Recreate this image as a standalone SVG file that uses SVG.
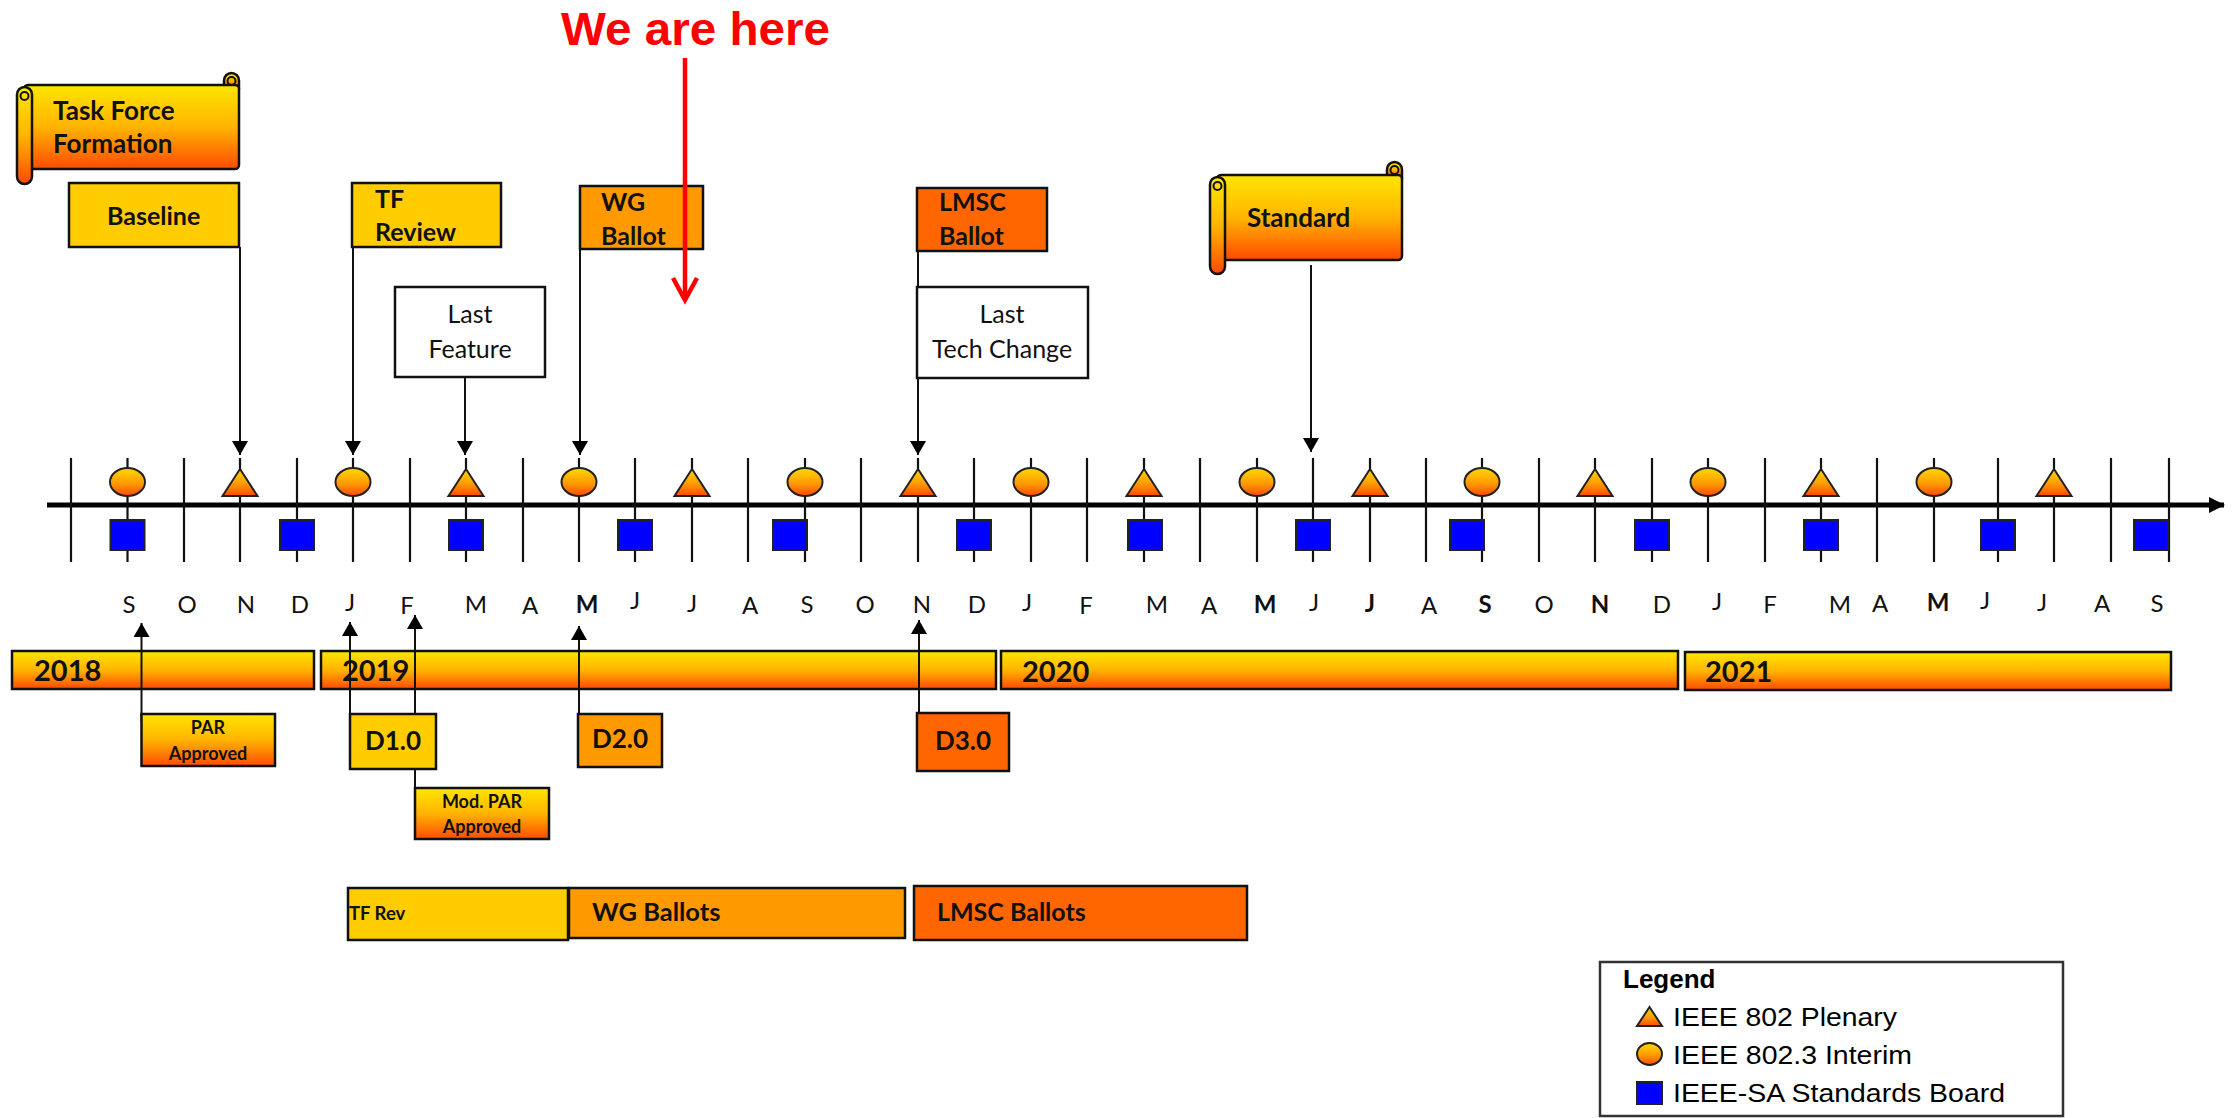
<svg xmlns="http://www.w3.org/2000/svg" width="2236" height="1118" viewBox="0 0 2236 1118">
<defs>
<linearGradient id="gy" x1="0" y1="0" x2="0" y2="1">
<stop offset="0" stop-color="#FFE600"/><stop offset="0.5" stop-color="#FFB400"/><stop offset="1" stop-color="#FF4A00"/>
</linearGradient>
<linearGradient id="gm" x1="0" y1="0" x2="0" y2="1">
<stop offset="0" stop-color="#FFD800"/><stop offset="0.55" stop-color="#FF9A00"/><stop offset="1" stop-color="#FF4A00"/>
</linearGradient>
<marker id="ah" viewBox="0 0 14 16" refX="14" refY="8" markerWidth="14" markerHeight="16" markerUnits="userSpaceOnUse" orient="auto">
<path d="M0,0 L14,8 L0,16 z" fill="#000"/>
</marker>
<marker id="axh" viewBox="0 0 16 16" refX="15" refY="8" markerWidth="16" markerHeight="16" markerUnits="userSpaceOnUse" orient="auto">
<path d="M0,0 L16,8 L0,16 z" fill="#000"/>
</marker>
</defs>
<style>
.bx{stroke:#111;stroke-width:2.5}
.y1{fill:#FFCC00}.y2{fill:#FF9900}.y3{fill:#FF6600}
.gr{fill:url(#gy)}
.t{font-family:Lato,"Open Sans",sans-serif;font-weight:bold;fill:#111}
.tr{font-family:Lato,"Open Sans",sans-serif;fill:#111}
.m{font-family:Lato,"Open Sans",sans-serif;font-size:24px;fill:#111;text-anchor:middle}
.mb{font-weight:bold}
.tick{stroke:#111;stroke-width:2.2}
.con{stroke:#111;stroke-width:2;fill:none}
.mk{fill:url(#gm);stroke:#222;stroke-width:2}
.sq{fill:#0000FF;stroke:#222;stroke-width:2}
.lg{font-family:"Liberation Sans",Arial,sans-serif;fill:#000}
</style>
<rect width="2236" height="1118" fill="#fff"/>

<!-- timeline axis and ticks -->
<g id="axis">
<line x1="47" y1="505" x2="2224" y2="505" stroke="#000" stroke-width="5" marker-end="url(#axh)"/>
<g class="tick">
<line x1="71" y1="458" x2="71" y2="562"/><line x1="127.5" y1="458" x2="127.5" y2="562"/>
<line x1="184" y1="458" x2="184" y2="562"/><line x1="240" y1="458" x2="240" y2="562"/>
<line x1="297" y1="458" x2="297" y2="562"/><line x1="353" y1="458" x2="353" y2="562"/>
<line x1="410" y1="458" x2="410" y2="562"/><line x1="466" y1="458" x2="466" y2="562"/>
<line x1="523" y1="458" x2="523" y2="562"/><line x1="579" y1="458" x2="579" y2="562"/>
<line x1="635" y1="458" x2="635" y2="562"/><line x1="692" y1="458" x2="692" y2="562"/>
<line x1="748" y1="458" x2="748" y2="562"/><line x1="805" y1="458" x2="805" y2="562"/>
<line x1="861" y1="458" x2="861" y2="562"/><line x1="918" y1="458" x2="918" y2="562"/>
<line x1="974" y1="458" x2="974" y2="562"/><line x1="1031" y1="458" x2="1031" y2="562"/>
<line x1="1087" y1="458" x2="1087" y2="562"/><line x1="1144" y1="458" x2="1144" y2="562"/>
<line x1="1200" y1="458" x2="1200" y2="562"/><line x1="1257" y1="458" x2="1257" y2="562"/>
<line x1="1313" y1="458" x2="1313" y2="562"/><line x1="1370" y1="458" x2="1370" y2="562"/>
<line x1="1426" y1="458" x2="1426" y2="562"/><line x1="1482" y1="458" x2="1482" y2="562"/>
<line x1="1539" y1="458" x2="1539" y2="562"/><line x1="1595" y1="458" x2="1595" y2="562"/>
<line x1="1652" y1="458" x2="1652" y2="562"/><line x1="1708" y1="458" x2="1708" y2="562"/>
<line x1="1765" y1="458" x2="1765" y2="562"/><line x1="1821" y1="458" x2="1821" y2="562"/>
<line x1="1877" y1="458" x2="1877" y2="562"/><line x1="1934" y1="458" x2="1934" y2="562"/>
<line x1="1998" y1="458" x2="1998" y2="562"/><line x1="2054" y1="458" x2="2054" y2="562"/>
<line x1="2111" y1="458" x2="2111" y2="562"/><line x1="2169" y1="458" x2="2169" y2="562"/>
</g>
</g>

<!-- interim meetings (circles) -->
<g id="interims">
<ellipse class="mk" cx="127.5" cy="482" rx="17.5" ry="14"/>
<ellipse class="mk" cx="353" cy="482" rx="17.5" ry="14"/>
<ellipse class="mk" cx="579" cy="482" rx="17.5" ry="14"/>
<ellipse class="mk" cx="805" cy="482" rx="17.5" ry="14"/>
<ellipse class="mk" cx="1031" cy="482" rx="17.5" ry="14"/>
<ellipse class="mk" cx="1257" cy="482" rx="17.5" ry="14"/>
<ellipse class="mk" cx="1482" cy="482" rx="17.5" ry="14"/>
<ellipse class="mk" cx="1708" cy="482" rx="17.5" ry="14"/>
<ellipse class="mk" cx="1934" cy="482" rx="17.5" ry="14"/>
</g>
<!-- plenaries (triangles) -->
<g id="plenaries">
<path class="mk" d="M240,469 L257.5,496 L222.5,496 z"/>
<path class="mk" d="M466,469 L483.5,496 L448.5,496 z"/>
<path class="mk" d="M692,469 L709.5,496 L674.5,496 z"/>
<path class="mk" d="M918,469 L935.5,496 L900.5,496 z"/>
<path class="mk" d="M1144,469 L1161.5,496 L1126.5,496 z"/>
<path class="mk" d="M1370,469 L1387.5,496 L1352.5,496 z"/>
<path class="mk" d="M1595,469 L1612.5,496 L1577.5,496 z"/>
<path class="mk" d="M1821,469 L1838.5,496 L1803.5,496 z"/>
<path class="mk" d="M2054,469 L2071.5,496 L2036.5,496 z"/>
</g>
<!-- standards board (squares) -->
<g id="standards-board">
<rect class="sq" x="110.5" y="520" width="34" height="30"/>
<rect class="sq" x="280" y="520" width="34" height="30"/>
<rect class="sq" x="449" y="520" width="34" height="30"/>
<rect class="sq" x="618" y="520" width="34" height="30"/>
<rect class="sq" x="773" y="520" width="34" height="30"/>
<rect class="sq" x="957" y="520" width="34" height="30"/>
<rect class="sq" x="1128" y="520" width="34" height="30"/>
<rect class="sq" x="1296" y="520" width="34" height="30"/>
<rect class="sq" x="1450" y="520" width="34" height="30"/>
<rect class="sq" x="1635" y="520" width="34" height="30"/>
<rect class="sq" x="1804" y="520" width="34" height="30"/>
<rect class="sq" x="1981" y="520" width="34" height="30"/>
<rect class="sq" x="2134" y="520" width="34" height="30"/>
</g>

<!-- month labels -->
<g id="months">
<text class="m" x="129" y="613">S</text><text class="m" x="187" y="613">O</text>
<text class="m" x="246" y="613">N</text><text class="m" x="300" y="613">D</text>
<text class="m" x="350" y="611">J</text><text class="m" x="407" y="614">F</text>
<text class="m" x="476" y="613">M</text><text class="m" x="530" y="614">A</text>
<text class="m mb" x="587" y="613">M</text><text class="m" x="635" y="609">J</text>
<text class="m" x="692" y="612">J</text><text class="m" x="750" y="614">A</text>
<text class="m" x="807" y="613">S</text><text class="m" x="865" y="613">O</text>
<text class="m" x="922" y="613">N</text><text class="m" x="977" y="613">D</text>
<text class="m" x="1027" y="611">J</text><text class="m" x="1086" y="614">F</text>
<text class="m" x="1157" y="613">M</text><text class="m" x="1209" y="614">A</text>
<text class="m mb" x="1265" y="613">M</text><text class="m" x="1314" y="611">J</text>
<text class="m mb" x="1370" y="612">J</text><text class="m" x="1429" y="614">A</text>
<text class="m mb" x="1485" y="613">S</text><text class="m" x="1544" y="613">O</text>
<text class="m mb" x="1600" y="613">N</text><text class="m" x="1662" y="613">D</text>
<text class="m" x="1717" y="610">J</text><text class="m" x="1770" y="613">F</text>
<text class="m" x="1840" y="613">M</text><text class="m" x="1880" y="612">A</text>
<text class="m mb" x="1938" y="611">M</text><text class="m" x="1985" y="609">J</text>
<text class="m" x="2042" y="611">J</text><text class="m" x="2102" y="612">A</text>
<text class="m" x="2157" y="612">S</text>
</g>

<!-- year bars -->
<g id="year-2018"><rect class="bx gr" x="12" y="651" width="302" height="38" stroke-width="2"/><text class="t" x="34" y="681" font-size="29">2018</text></g>
<g id="year-2019"><rect class="bx gr" x="321" y="651" width="675" height="38" stroke-width="2"/><text class="t" x="342" y="681" font-size="29">2019</text></g>
<g id="year-2020"><rect class="bx gr" x="1001" y="651" width="677" height="38" stroke-width="2"/><text class="t" x="1022" y="682" font-size="29">2020</text></g>
<g id="year-2021"><rect class="bx gr" x="1685" y="652" width="486" height="38" stroke-width="2"/><text class="t" x="1705" y="682" font-size="29">2021</text></g>

<!-- connectors -->
<g id="connectors">
<line class="con" x1="240" y1="247" x2="240" y2="455" marker-end="url(#ah)"/>
<line class="con" x1="353" y1="247" x2="353" y2="455" marker-end="url(#ah)"/>
<line class="con" x1="465" y1="377" x2="465" y2="455" marker-end="url(#ah)"/>
<line class="con" x1="580" y1="249" x2="580" y2="455" marker-end="url(#ah)"/>
<line class="con" x1="918" y1="251" x2="918" y2="455" marker-end="url(#ah)"/>
<line class="con" x1="1311" y1="265" x2="1311" y2="452" marker-end="url(#ah)"/>
<line class="con" x1="141.5" y1="722" x2="141.5" y2="623" marker-end="url(#ah)"/>
<line class="con" x1="350" y1="714" x2="350" y2="622" marker-end="url(#ah)"/>
<line class="con" x1="415" y1="788" x2="415" y2="615" marker-end="url(#ah)"/>
<line class="con" x1="579" y1="714" x2="579" y2="626" marker-end="url(#ah)"/>
<line class="con" x1="919" y1="713" x2="919" y2="620" marker-end="url(#ah)"/>
</g>

<!-- top milestones -->
<g id="task-force-formation">
<path class="bx gr" d="M224,88 V80.5 A7.5,7.5 0 0 1 239,80.5 V88 z"/>
<rect class="bx gr" x="24" y="85" width="215" height="84" rx="4"/>
<rect class="bx gr" x="17" y="87" width="15" height="97" rx="7.5"/>
<circle cx="24.5" cy="96" r="4" fill="none" stroke="#111" stroke-width="2"/>
<circle cx="231.5" cy="81" r="4" fill="none" stroke="#111" stroke-width="2"/>
<text class="t" x="53" y="120" font-size="26">Task Force</text>
<text class="t" x="53" y="153" font-size="26">Formation</text>
</g>
<g id="baseline"><rect class="bx y1" x="69" y="183" width="170" height="64"/><text class="t" x="107" y="225" font-size="25">Baseline</text></g>
<g id="tf-review"><rect class="bx y1" x="352" y="183" width="149" height="64"/><text class="t" x="375" y="208" font-size="25">TF</text><text class="t" x="375" y="241" font-size="25">Review</text></g>
<g id="last-feature"><rect class="bx" fill="#fff" x="395" y="287" width="150" height="90"/><text class="tr" x="470" y="323" font-size="25" text-anchor="middle">Last</text><text class="tr" x="470" y="358" font-size="25" text-anchor="middle">Feature</text></g>
<g id="wg-ballot"><rect class="bx y2" x="580" y="186" width="123" height="63"/><text class="t" x="601" y="211" font-size="25">WG</text><text class="t" x="601" y="245" font-size="25">Ballot</text></g>
<g id="lmsc-ballot"><rect class="bx y3" x="917" y="188" width="130" height="63"/><text class="t" x="939" y="211" font-size="25">LMSC</text><text class="t" x="939" y="245" font-size="25">Ballot</text></g>
<g id="last-tech-change"><rect class="bx" fill="#fff" x="917" y="287" width="171" height="91"/><text class="tr" x="1002" y="323" font-size="25" text-anchor="middle">Last</text><text class="tr" x="1002" y="358" font-size="25" text-anchor="middle">Tech Change</text></g>
<g id="standard">
<path class="bx gr" d="M1387,178 V169.5 A7.5,7.5 0 0 1 1402,169.5 V178 z"/>
<rect class="bx gr" x="1217" y="175" width="185" height="85" rx="4"/>
<rect class="bx gr" x="1210" y="177" width="15" height="97" rx="7.5"/>
<circle cx="1217.5" cy="186" r="4" fill="none" stroke="#111" stroke-width="2"/>
<circle cx="1394.5" cy="170" r="4" fill="none" stroke="#111" stroke-width="2"/>
<text class="t" x="1247" y="227" font-size="26">Standard</text>
</g>

<!-- bottom milestones -->
<g id="par-approved"><rect class="bx gr" x="141.5" y="714" width="133.5" height="52" stroke-width="2"/><text class="t" x="208" y="734" font-size="18" text-anchor="middle">PAR</text><text class="t" x="208" y="760" font-size="18" text-anchor="middle">Approved</text></g>
<g id="d1-0"><rect class="bx y1" x="350" y="714" width="86" height="55"/><text class="t" x="393" y="750" font-size="26" text-anchor="middle">D1.0</text></g>
<g id="mod-par-approved"><rect class="bx gr" x="415" y="788" width="134" height="51" stroke-width="2"/><text class="t" x="482" y="808" font-size="18" text-anchor="middle">Mod. PAR</text><text class="t" x="482" y="833" font-size="18" text-anchor="middle">Approved</text></g>
<g id="d2-0"><rect class="bx y2" x="578" y="714" width="84" height="53"/><text class="t" x="620" y="748" font-size="26" text-anchor="middle">D2.0</text></g>
<g id="d3-0"><rect class="bx y3" x="917" y="713" width="92" height="58"/><text class="t" x="963" y="750" font-size="26" text-anchor="middle">D3.0</text></g>

<!-- phase bars -->
<g id="tf-rev"><rect class="bx y1" x="348" y="888" width="220" height="52"/><text class="t" x="349" y="920" font-size="18.5">TF Rev</text></g>
<g id="wg-ballots"><rect class="bx y2" x="569" y="888" width="336" height="50"/><text class="t" x="592" y="921" font-size="25.5">WG Ballots</text></g>
<g id="lmsc-ballots"><rect class="bx y3" x="914" y="886" width="333" height="54"/><text class="t" x="937" y="921" font-size="25">LMSC Ballots</text></g>

<!-- legend -->
<g id="legend">
<rect x="1600" y="962" width="463" height="154" fill="#fff" stroke="#333" stroke-width="2.5"/>
<text class="lg" x="1623" y="988" font-size="26" font-weight="bold">Legend</text>
<path class="mk" d="M1649.5,1007 L1662,1026 L1637,1026 z"/>
<text class="lg" x="1673" y="1026" font-size="26" textLength="224" lengthAdjust="spacingAndGlyphs">IEEE 802 Plenary</text>
<ellipse class="mk" cx="1649.5" cy="1054" rx="12.5" ry="11"/>
<text class="lg" x="1673" y="1064" font-size="26" textLength="239" lengthAdjust="spacingAndGlyphs">IEEE 802.3 Interim</text>
<rect class="sq" x="1637" y="1082" width="25" height="22"/>
<text class="lg" x="1673" y="1102" font-size="26" textLength="332" lengthAdjust="spacingAndGlyphs">IEEE-SA Standards Board</text>
</g>

<!-- We are here (drawn on top) -->
<g id="we-are-here">
<text x="561" y="45" font-family="Liberation Sans,Arial,sans-serif" font-weight="bold" font-size="46" fill="#FF0000" textLength="269" lengthAdjust="spacingAndGlyphs">We are here</text>
<line x1="685" y1="58" x2="685" y2="299" stroke="#FF0000" stroke-width="4.5"/>
<polyline points="673,278 685,300 697,278" fill="none" stroke="#FF0000" stroke-width="4.5"/>
</g>
</svg>
